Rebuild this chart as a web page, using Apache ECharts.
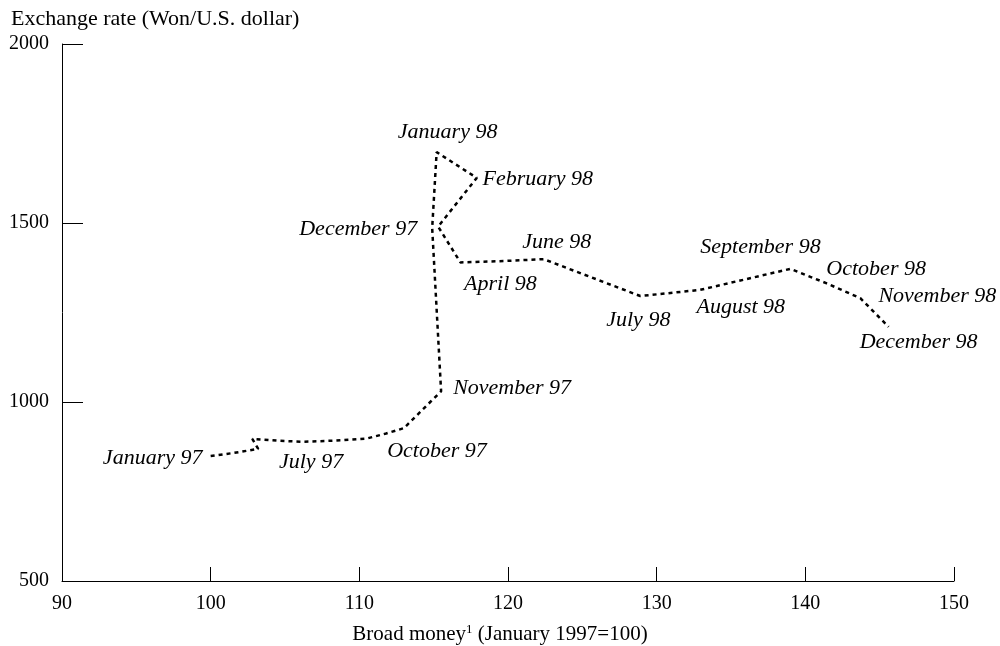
<!DOCTYPE html>
<html>
<head>
<meta charset="utf-8">
<script src="https://cdn.jsdelivr.net/npm/echarts@6/dist/echarts.min.js"></script>
<style>html,body{margin:0;padding:0;background:#fff}#c{width:1000px;height:646px}</style>
</head>
<body>
<div id="c"></div>
<script>
// Data
const months = ["January 97","February 97","March 97","April 97","May 97","June 97","July 97","August 97","September 97","October 97","November 97","December 97",
  "January 98","February 98","March 98","April 98","May 98","June 98","July 98","August 98","September 98","October 98","November 98","December 98"];
const broadMoney = [100.0,101.6,103.2,102.8,104.5,106.2,108.3,110.5,111.8,113.0,115.5,114.9,
  115.2,117.9,115.3,116.8,119.8,122.4,128.9,132.9,139.0,141.4,143.7,145.6];
const exchangeRate = [849,858,869,897,892,889,892,898,912,927,1030,1486,
  1698,1626,1490,1390,1394,1399,1296,1313,1372,1332,1290,1210];
const labeledMonths = ["January 97","July 97","October 97","November 97","December 97","January 98","February 98","April 98","June 98","July 98","August 98","September 98","October 98","November 98","December 98"];
const xTicks = [90,100,110,120,130,140,150];
const yTicks = [500,1000,1500,2000];

// Label placement (style only)
const labelOffsets = {
  "January 97":[-58,2],"July 97":[-23,22],"October 97":[33,23],"November 97":[71,-3],
  "December 97":[-74,1],"January 98":[11,-20],"February 98":[61,1],"April 98":[40,22],
  "June 98":[13,-17],"July 98":[-2,24],"August 98":[41,17],"September 98":[-30,-22],
  "October 98":[50,-14],"November 98":[77,-2],"December 98":[30,15]
};

const font = '"Liberation Serif","Times New Roman",serif';
const lineData = months.map((m,i)=>[broadMoney[i], exchangeRate[i]]);
const labelData = months.map((m,i)=>({name:m, value:[broadMoney[i], exchangeRate[i]]}))
  .filter(d=>labeledMonths.includes(d.name))
  .map(d=>({...d, label:{offset:labelOffsets[d.name]}}));

const chart = echarts.init(document.getElementById('c'), null, {renderer:'canvas'});
chart.setOption({
  animation:false,
  backgroundColor:'#fff',
  grid:{left:62,right:46,top:44,bottom:65,containLabel:false},
  title:{text:'Exchange rate (Won/U.S. dollar)',left:6,top:3,
    textStyle:{fontFamily:font,fontSize:22,fontWeight:'normal',color:'#000'}},
  graphic:[{type:'text',left:'center',top:623,style:{
    text:'{a|Broad money}{s|1}{a| (January 1997=100)}',
    rich:{a:{fontFamily:font,fontSize:21,fill:'#000'},s:{fontFamily:font,fontSize:13,fill:'#000',verticalAlign:'top',padding:[0,0,10,0]}},
    x:0,y:0}}],
  xAxis:{type:'value',min:xTicks[0],max:xTicks[xTicks.length-1],interval:10,
    axisLine:{lineStyle:{color:'#000',width:1}},
    axisTick:{inside:true,length:14,lineStyle:{color:'#000'}},
    axisLabel:{fontFamily:font,fontSize:20,color:'#000',margin:13},
    splitLine:{show:false}},
  yAxis:{type:'value',min:yTicks[0],max:yTicks[yTicks.length-1],interval:500,
    axisLine:{show:true,lineStyle:{color:'#000',width:1}},
    axisTick:{show:true,inside:true,length:21,lineStyle:{color:'#000'}},
    axisLabel:{fontFamily:font,fontSize:20,color:'#000',margin:13,formatter:v=>String(v)},
    splitLine:{show:false}},
  series:[
    {type:'line',data:lineData,symbol:'none',smooth:false,
      lineStyle:{color:'#000',width:2.5,type:[4,4]}},
    {type:'scatter',data:labelData,symbolSize:0,itemStyle:{color:'#000',opacity:1},
      label:{show:true,position:'inside',formatter:'{b}',fontFamily:font,fontSize:22,fontStyle:'italic',color:'#000',opacity:1}}
  ]
});
</script>
</body>
</html>
